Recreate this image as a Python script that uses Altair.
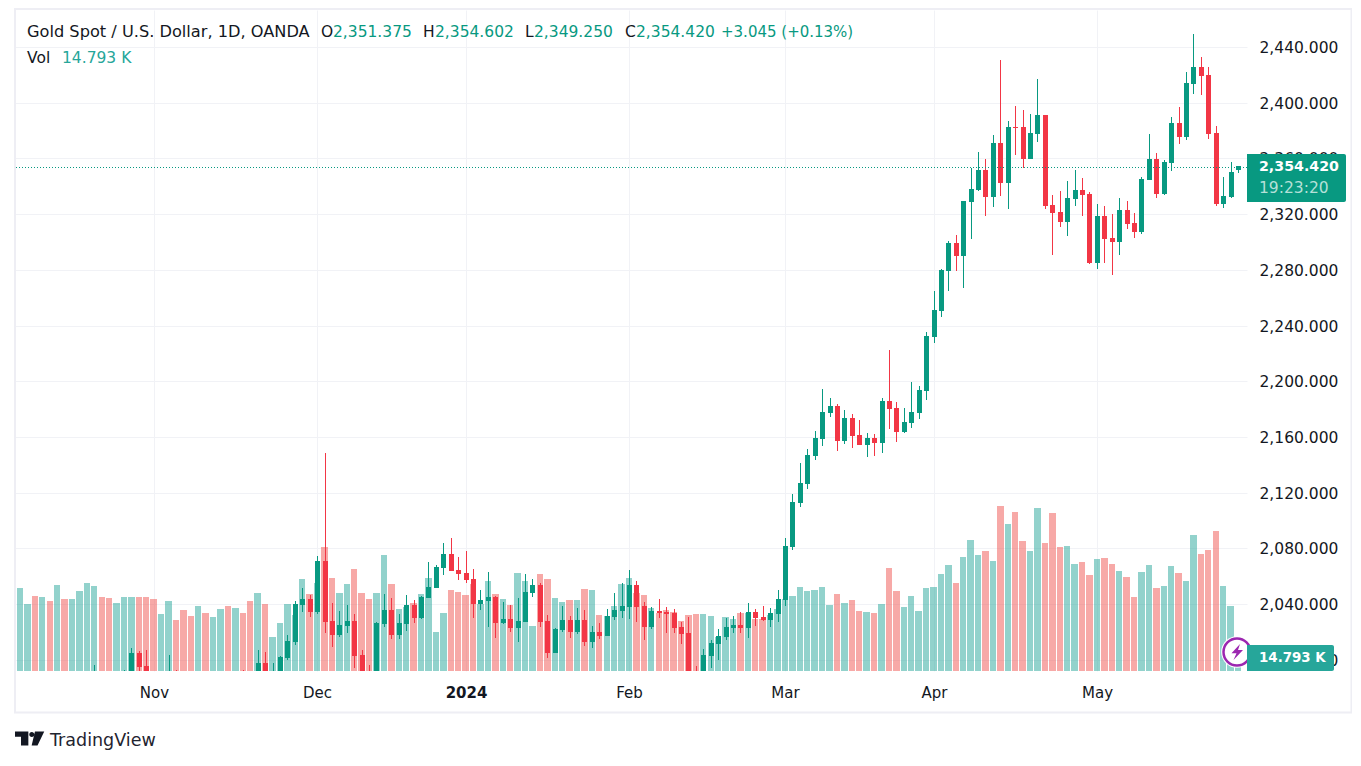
import altair as alt
import pandas as pd

bar_index = list(range(-1, 165))

opens = [
    1985,1978,1984,1986,1979,1983,1975,1980,1970,1976,
    1982,1986,1989,1981,1973,1979,1988,2004.8,1995.4,1988,
    1979,1982,1988,1980,1971,1964,1970,1962,1967,1975,
    1969,1981,1978,1974,1997.6,1985,1989,2001.2,2012.7,2039.3,
    2043.6,2034.2,2070.9,2027.8,2017.7,2024.2,2027.8,2003.3,1988,1985,
    2025.6,2035.7,2017.7,2025.6,2039.3,2029.9,2044.3,2051.5,2065.8,2075.9,
    2064.4,2062.2,2057.9,2040,2042.1,2045,2026.3,2029.2,2022.7,2027,
    2047.9,2053.6,2027.8,2004.8,2021.3,2028.5,2019.9,2028.5,2012.7,2019.9,
    2017,2030.6,2034.9,2037.8,2053.6,2038.5,2023.5,2034.9,2034.2,2033.5,
    2023.5,2019.2,1988,1985,2002.6,2011.2,2016.3,2022.7,2024.9,2022.7,
    2034.2,2030.6,2028.5,2032.8,2042.8,2081,2112.6,2126.2,2146.3,2158.5,
    2177.1,2182.2,2157,2173.5,2161.3,2154.2,2159.2,2155.6,2185.8,2180.7,
    2163.5,2170,2177.1,2193.2,2232,2250.4,2279.1,2299.2,2289.9,2328.7,
    2337.3,2351.7,2332.3,2371,2342.3,2382.5,2382.5,2359.5,2377.5,2391.2,
    2326.5,2321.5,2314.3,2330.8,2337.3,2334.4,2284.9,2318.6,2302.8,2299.9,
    2322.9,2313.6,2307.1,2344.5,2359.5,2334.4,2356.7,2385.4,2375.4,2413.4,
    2425.6,2419.9,2378.2,2327.2,2332.3,2351.375,
]
highs = [
    1988,1987,1989,1989,1985,1986,1983,1984,1979,1984,
    1988,1996.2,1991,1985,1982,1992.6,2008.4,2006.2,2007,1990,
    1985,2003.3,1992.6,1984,1975,1973,1974,1970,1978,1980,
    1984,1992.6,1985,2007,2005.5,1997.6,2002.6,2017.7,2042.1,2051.5,
    2046.4,2074.4,2148.4,2040.7,2034.9,2039.3,2032.8,2007,1996.2,2027,
    2047.1,2044.3,2032.8,2046.4,2042.8,2045.5,2070.1,2068,2083.8,2087.4,
    2073.7,2078,2065.1,2050,2063,2045.7,2041.4,2039.3,2044.3,2061.5,
    2057.9,2055,2032.1,2022.7,2038.5,2031.4,2037.1,2035.7,2024.2,2026.3,
    2036.4,2047.9,2055,2064.4,2056.5,2041.4,2037.8,2043.6,2037.8,2036.4,
    2027,2030.6,1995.4,2007.6,2014.1,2022,2029.9,2031.4,2034.2,2040.7,
    2036.4,2038.5,2037.1,2050,2087.4,2119,2141.3,2151.3,2164.2,2194.4,
    2187.9,2183.6,2179.3,2176.4,2172.1,2162.8,2162.1,2187.9,2222.4,2185,
    2180.7,2199.4,2196.5,2235.3,2264.8,2280.6,2300.7,2305,2329.4,2353.1,
    2364.6,2359.5,2376.8,2430.7,2386.8,2397.6,2394.7,2391.9,2417,2391.2,
    2333.7,2336.6,2343.8,2351.7,2345.9,2335.9,2327.2,2325.8,2320,2331.5,
    2329.4,2320.8,2346.6,2377.5,2363.9,2358.8,2389.7,2396.9,2422,2449.3,
    2432.8,2425.6,2383.3,2346.6,2357.4,2354.602,
]
lows = [
    1976,1975,1980,1975,1976,1972,1971,1968,1965,1973,
    1978,1982,1978,1970,1970,1976,1984,1990,1983,1976,
    1975,1978,1977,1968,1960,1961,1958,1959,1964,1966,
    1966,1976,1970,1972,1980,1982,1986,1999.8,2010.5,2034.2,
    2030.6,2032.8,2019.2,2009.1,2016.3,2019.2,1994,1985,1982,1982,
    2023.5,2014.8,2014.8,2020.6,2026.3,2029,2044,2051.2,2060.8,2063.7,
    2057.2,2055,2029.9,2035.7,2023.5,2015.5,2025.6,2019.9,2012.7,2027,
    2045,2023.5,2001.2,2004.8,2019.9,2015.5,2018.4,2009.8,2008.4,2014.8,
    2017,2028.5,2029.9,2029.2,2027,2014.1,2022,2029.9,2019.2,2019.2,
    2011.2,1985,1982,1982,1994,1999.8,2014.1,2019.2,2019.2,2015.5,
    2024.2,2027.8,2023.5,2027,2038.5,2078.8,2109.7,2122.6,2143.4,2153.4,
    2174.3,2149.8,2154.9,2152,2154.2,2145.5,2146.3,2148.4,2165.6,2156.3,
    2162.8,2166.4,2172.8,2186.5,2227.4,2246.1,2264.8,2279.1,2266.9,2302.1,
    2336.6,2318.6,2325.1,2333,2323.6,2362.4,2353.1,2359.5,2371.8,2323.6,
    2290.6,2310.7,2304.2,2325.8,2318.6,2284.1,2280.6,2284.9,2276.2,2290.6,
    2309.3,2302.8,2305.7,2344.5,2331.5,2333.7,2350.9,2370.3,2373.2,2406.2,
    2405.5,2373.9,2325.8,2324.4,2331.5,2349.25,
]
closes = [
    1978,1984,1986,1979,1983,1975,1980,1970,1976,1982,
    1986,1990,1981,1973,1979,1988,2004.8,1994.7,1988,1979,
    1982,1988,1980,1971,1964,1970,1962,1967,1975,1969,
    1981,1978,1974,1997.6,1985,1989,2001.9,2013.4,2040,2043.6,
    2034.2,2070.9,2027,2017.7,2024.9,2027.8,2002.6,1988,1985,2026.3,
    2035.7,2017.7,2026.3,2039.3,2029.9,2045,2052.2,2066.5,2075.9,2063.7,
    2061.5,2057.2,2040,2042.8,2045,2026.3,2029.2,2022.7,2027.8,2048.6,
    2053.6,2027,2004.8,2022,2028.5,2019.9,2028.5,2012.7,2019.9,2017,
    2031.4,2035.7,2038.5,2053.6,2037.8,2023.5,2034.9,2033.5,2032.8,2022.7,
    2018.4,1988,1985,2003.3,2012,2017,2023.5,2024.9,2022.7,2034.2,
    2029.9,2028.5,2033.5,2043.6,2081.6,2113.3,2126.9,2147,2159.2,2177.9,
    2182.2,2157,2173.5,2160.6,2154.2,2159.2,2155.6,2185.8,2180,2163.5,
    2170.7,2177.9,2193.7,2232.4,2251.1,2279.8,2299.2,2289.9,2329.4,2338,
    2351.7,2332.3,2371,2342.3,2382.5,2381.8,2359.5,2378.2,2391.2,2325.8,
    2320.8,2314.3,2331.5,2337.3,2333.7,2284.9,2318.6,2302.1,2299.9,2322.9,
    2312.9,2307.1,2345.2,2359.5,2334.4,2357.4,2385.4,2375.4,2414.1,2425.6,
    2419.2,2377.5,2327.2,2333,2350.2,2354.42,
]
volumes = [
    263,307,248,278,274,259,318,266,266,296,
    326,315,274,270,252,274,274,274,274,266,
    211,259,189,226,204,241,215,200,229,241,
    233,215,259,289,248,126,178,248,207,340,
    285,326,459,344,289,322,377,289,266,289,
    429,322,229,237,252,285,344,144,215,300,
    292,281,322,248,333,285,266,244,363,333,
    167,359,340,270,255,263,263,303,300,207,
    204,241,322,344,289,281,233,215,226,218,
    185,207,211,211,204,126,200,192,215,215,
    192,192,207,229,266,278,311,296,300,311,
    244,285,252,263,222,218,215,248,381,296,
    237,278,222,307,311,359,392,326,422,485,
    429,444,407,611,544,588,481,444,603,474,
    585,459,463,396,403,355,414,418,396,370,
    348,274,366,392,307,315,389,363,333,503,
    433,448,518,315,241,14.793,
]
month_positions = [18, 40, 60, 82, 103, 123, 145]
month_labels = ["Nov", "Dec", "2024", "Feb", "Mar", "Apr", "May"]
price_ticks = [2000, 2040, 2080, 2120, 2160, 2200, 2240, 2280, 2320, 2360, 2400, 2440]

assert len(bar_index) == len(opens) == len(highs) == len(lows) == len(closes) == len(volumes)

UP, DOWN = "#089981", "#f23645"
VUP, VDOWN = "#26a69a", "#ef5350"
GRID = "#f1f2f6"
FONT = "DejaVu Sans"
TEXT = "#131722"
X0, Y0 = 15, 10
W, H = 1232, 661

df = pd.DataFrame({"i": bar_index, "o": opens, "h": highs, "l": lows, "c": closes, "v": volumes})
df["dir"] = ["up" if c >= o else "down" for o, c in zip(opens, closes)]

x_scale = alt.Scale(domain=[-0.673, 165.21], nice=False, zero=False, padding=0, round=True)
p_scale = alt.Scale(domain=[1991.9, 2466.57], nice=False, zero=False, round=True)
v_scale = alt.Scale(domain=[0, 2445.7], nice=False, round=True)
label_expr = " : ".join(f"datum.value == {p} ? '{m}'" for p, m in zip(month_positions, month_labels)) + " : ''"
x_enc = alt.X("left:Q", scale=x_scale, title=None, axis=alt.Axis(
    values=month_positions, labelExpr=label_expr, grid=True, gridColor=GRID, gridWidth=1,
    ticks=False, domain=False, labelPadding=14, labelFontSize=15, labelFont=FONT, labelColor=TEXT,
    labelFontWeight=alt.expr("datum.value == 60 ? 700 : 400"), labelOverlap=False, labelFlush=False))
y_axis = alt.Axis(values=price_ticks, format=",.3f", orient="right", grid=True, gridColor=GRID, gridWidth=1,
                  ticks=False, domain=False, labelPadding=12, labelFontSize=15.5, labelFont=FONT,
                  labelColor=TEXT, labelOverlap=False, labelFlush=False, title=None)
dir_color = alt.Color("dir:N", scale=alt.Scale(domain=["up", "down"], range=[UP, DOWN]), legend=None)
vol_color = alt.Color("dir:N", scale=alt.Scale(domain=["up", "down"], range=[VUP, VDOWN]), legend=None)

vol = alt.Chart(df).transform_calculate(
    left="datum.i - 0.43", right="datum.i + 0.43", base="0"
).mark_rect(opacity=0.5, clip=True).encode(
    x=x_enc, x2="right:Q", y=alt.Y("v:Q", scale=v_scale, axis=None), y2="base:Q", color=vol_color)
wick = alt.Chart(df).mark_rule(strokeWidth=1, clip=True, xOffset=0.5).encode(
    x=alt.X("i:Q", scale=x_scale),
    y=alt.Y("l:Q", scale=p_scale, axis=y_axis), y2="h:Q", color=dir_color)
body = alt.Chart(df).mark_bar(size=5, clip=True, xOffset=0.5).encode(
    x=alt.X("i:Q", scale=x_scale),
    y=alt.Y("o:Q", scale=p_scale, axis=None), y2="c:Q", color=dir_color)
last_line = alt.Chart(pd.DataFrame({"p": closes[-1:]})).mark_rule(
    strokeDash=[1, 2], strokeWidth=1, color=UP, yOffset=1.5).encode(
    y=alt.Y("p:Q", scale=p_scale, axis=None))


def box(x, x2, y, y2, **kw):
    return alt.Chart().mark_rect(**kw).encode(
        x=alt.value(x - X0), x2=alt.value(x2 - X0), y=alt.value(y - Y0), y2=alt.value(y2 - Y0))


def label(text, x, y, color=TEXT, size=15.5, weight=400, font=FONT):
    return alt.Chart().mark_text(align="left", baseline="middle", font=font, fontSize=size,
                                 fontWeight=weight, color=color).encode(
        x=alt.value(x - X0), y=alt.value(y - Y0), text=alt.value(text))


def glyph(shape, x, y, size, **kw):
    return alt.Chart().mark_point(shape=shape, size=size, **kw).encode(
        x=alt.value(x - X0), y=alt.value(y - Y0))


frame = box(15, 1351.5, 9, 712.5, fillOpacity=0, stroke="#eeeef4", strokeWidth=2)
halo = glyph("circle", 1237, 652, 1000, filled=True, color="white", opacity=1)
ring = glyph("circle", 1237, 652, 730, filled=False, color="#9c27b0", strokeWidth=2.5, opacity=1)
bolt = glyph("M0.3,-0.8L-0.55,0.12L-0.05,0.12L-0.35,0.8L0.6,-0.2L0.1,-0.2Z", 1237, 652, 400,
             filled=True, color="#9c27b0", opacity=1)
price_badge = box(1247, 1346, 154, 202, fill=UP, cornerRadiusTopRight=2, cornerRadiusBottomRight=2)
vol_badge = box(1247, 1334, 645, 671, fill=VUP, cornerRadiusTopRight=2, cornerRadiusBottomRight=2)
logo = glyph("M-1,-0.5L-0.11,-0.5L-0.11,0.43L-0.6,0.43L-0.6,-0.15L-1,-0.15Z"
             "M0.33,-0.5L0.95,-0.5L0.5,0.43L0.11,0.43Z"
             "M-0.05,-0.3A0.17,0.17 0 1 0 0.29,-0.3A0.17,0.17 0 1 0 -0.05,-0.3Z",
             30, 739, 900, filled=True, color=TEXT, opacity=1)

texts = [
    label("Gold Spot / U.S. Dollar, 1D, OANDA", 27, 32, size=16.2),
    label("O", 321, 32), label("2,351.375", 333, 32, UP),
    label("H", 423, 32), label("2,354.602", 435, 32, UP),
    label("L", 525, 32), label("2,349.250", 534, 32, UP),
    label("C", 625, 32), label("2,354.420", 636, 32, UP),
    label("+3.045 (+0.13%)", 721, 32, UP, size=15),
    label("Vol", 27, 58), label("14.793 K", 62, 58, VUP),
    label("2,354.420", 1259, 167, "#ffffff", size=14.2, weight=700),
    label("19:23:20", 1259, 188, "#b5e0d8"),
    label("14.793 K", 1259, 658, "#ffffff", size=13.4, weight=700),
    label("TradingView", 50, 741, "#1f2430", size=17.5),
]

chart = alt.layer(
    vol, wick, body, last_line, frame, halo, ring, bolt, price_badge, vol_badge, logo, *texts
).resolve_scale(y="independent", color="independent").properties(
    width=W, height=H,
    autosize=alt.AutoSizeParams(type="none"),
    padding={"left": 7, "top": 2, "right": 105, "bottom": 85},
    background="white",
).configure_view(stroke=None)

chart.save("out.html", embed_options={"renderer": "svg", "actions": False})
